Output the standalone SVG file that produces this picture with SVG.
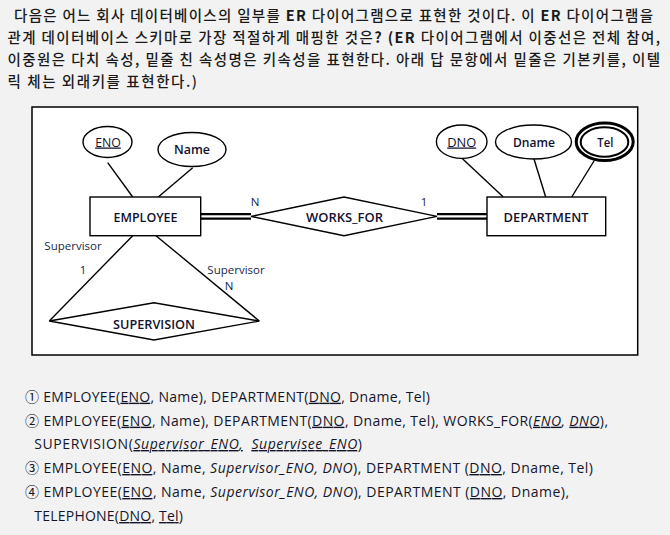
<svg xmlns="http://www.w3.org/2000/svg" width="670" height="535" viewBox="0 0 670 535">
<style>
.q{font-family:"Noto Sans CJK KR","Noto Sans",sans-serif;font-size:14.5px;font-weight:500;fill:#1a1a1a}
.b{font-weight:bold}
.a{font-family:"Open Sans","Noto Sans","Noto Sans CJK KR",sans-serif;font-size:14px;fill:#15152a}
.u{text-decoration:underline}
.i{font-style:italic}
.shape{fill:#fff;stroke:#000;stroke-width:1.4}
.ln{stroke:#000;stroke-width:1.4;fill:none}
.dbl{stroke:#000;stroke-width:2.3;fill:none}
.lbl{font-family:"Open Sans","Noto Sans",sans-serif;font-size:12.5px;font-weight:600;fill:#111130;text-anchor:middle}
.lbn{font-weight:normal}
.sm{font-family:"Open Sans","Noto Sans",sans-serif;font-size:11.5px;fill:#1a1f4a;text-anchor:middle}
</style>
<rect width="670" height="535" fill="#f2f2f2"/>

<g id="question">
<text class="q" x="14" y="20.5" textLength="639" lengthAdjust="spacing">다음은 어느 회사 데이터베이스의 일부를 <tspan class="b">ER</tspan> 다이어그램으로 표현한 것이다. 이 <tspan class="b">ER</tspan> 다이어그램을</text>
<text class="q" x="7.5" y="42.5" textLength="652.5" lengthAdjust="spacing">관계 데이터베이스 스키마로 가장 적절하게 매핑한 것은<tspan class="b">? (ER</tspan> 다이어그램에서 이중선은 전체 참여,</text>
<text class="q" x="7.5" y="64.5" textLength="652.5" lengthAdjust="spacing">이중원은 다치 속성, 밑줄 친 속성명은 키속성을 표현한다. 아래 답 문항에서 밑줄은 기본키를, 이텔</text>
<text class="q" x="7.5" y="86.5" textLength="189.5" lengthAdjust="spacing">릭 체는 외래키를 표현한다.)</text>
</g>

<rect id="frame" x="32" y="107" width="605.7" height="248" fill="#fff" stroke="#000" stroke-width="1.5"/>

<g id="connectors">
<line class="ln" x1="107.7" y1="162.7" x2="132.7" y2="197"/>
<line class="ln" x1="192.7" y1="167.7" x2="158.3" y2="197"/>
<line class="ln" x1="461.7" y1="158" x2="503.3" y2="197"/>
<line class="ln" x1="534" y1="159" x2="545.7" y2="197"/>
<line class="ln" x1="594.3" y1="160.5" x2="571.7" y2="197"/>
<line class="dbl" x1="200.7" y1="214.2" x2="251" y2="214.2"/>
<line class="dbl" x1="200.7" y1="218.7" x2="251" y2="218.7"/>
<line class="dbl" x1="437" y1="214.2" x2="487" y2="214.2"/>
<line class="dbl" x1="437" y1="218.7" x2="487" y2="218.7"/>
<line class="ln" x1="132.7" y1="235.7" x2="49.3" y2="321"/>
<line class="ln" x1="156" y1="235.7" x2="259.3" y2="321"/>
<text class="sm" x="73" y="249.5">Supervisor</text>
<text class="sm" x="83" y="273.5">1</text>
<text class="sm" x="236" y="273.5">Supervisor</text>
<text class="sm" x="229" y="290">N</text>
<text class="sm" x="255" y="206">N</text>
<text class="sm" x="424" y="205.5">1</text>
</g>

<g id="ENO">
<ellipse class="shape" cx="107.5" cy="142" rx="24.5" ry="15.5"/>
<text class="lbl lbn u" x="108" y="146.5" textLength="25.7" lengthAdjust="spacingAndGlyphs">ENO</text>
</g>
<g id="Name">
<ellipse class="shape" cx="192" cy="149.5" rx="34" ry="17"/>
<text class="lbl" x="192" y="153.5" textLength="36" lengthAdjust="spacingAndGlyphs">Name</text>
</g>
<g id="EMPLOYEE">
<rect class="shape" x="90" y="197" width="110.7" height="38.7"/>
<text class="lbl" x="145.5" y="221.5" textLength="64" lengthAdjust="spacingAndGlyphs">EMPLOYEE</text>
</g>
<g id="WORKS_FOR">
<polygon class="shape" points="251,216.4 344,197 437,216.4 344,235.7"/>
<text class="lbl" x="344.5" y="221.5" textLength="77" lengthAdjust="spacingAndGlyphs">WORKS_FOR</text>
</g>
<g id="DEPARTMENT">
<rect class="shape" x="487" y="197" width="118.7" height="38.7"/>
<text class="lbl" x="546" y="221.5" textLength="85" lengthAdjust="spacingAndGlyphs">DEPARTMENT</text>
</g>
<g id="DNO">
<ellipse class="shape" cx="461.7" cy="141.7" rx="25.3" ry="16.7"/>
<text class="lbl lbn u" x="461.7" y="146.5" textLength="29" lengthAdjust="spacingAndGlyphs">DNO</text>
</g>
<g id="Dname">
<ellipse class="shape" cx="533.5" cy="142" rx="38" ry="17"/>
<text class="lbl" x="534" y="146.5" textLength="42" lengthAdjust="spacingAndGlyphs">Dname</text>
</g>
<g id="Tel">
<ellipse cx="604.7" cy="141.7" rx="28.5" ry="18.8" fill="#fff" stroke="#000" stroke-width="3"/>
<ellipse cx="604.5" cy="142" rx="23.8" ry="14.7" fill="#fff" stroke="#000" stroke-width="2"/>
<text class="lbl" x="605.3" y="146.5" textLength="16" lengthAdjust="spacingAndGlyphs">Tel</text>
</g>
<g id="SUPERVISION">
<polygon class="shape" points="49.3,321 154,302.7 259.3,321 154,340"/>
<text class="lbl" x="154" y="328.5" textLength="82" lengthAdjust="spacingAndGlyphs">SUPERVISION</text>
</g>

<g id="answers">
<text class="a" x="25" y="401.7" textLength="405" lengthAdjust="spacing">① EMPLOYEE(<tspan class="u">ENO</tspan>, Name), DEPARTMENT(<tspan class="u">DNO</tspan>, Dname, Tel)</text>
<text class="a" x="25" y="425.7" textLength="583" lengthAdjust="spacing">② EMPLOYEE(<tspan class="u">ENO</tspan>, Name), DEPARTMENT(<tspan class="u">DNO</tspan>, Dname, Tel), WORKS_FOR(<tspan class="i u">ENO</tspan><tspan class="i">, </tspan><tspan class="i u">DNO</tspan>),</text>
<text class="a" x="34.3" y="449" textLength="327.7" lengthAdjust="spacing">SUPERVISION(<tspan class="i u">Supervisor_ENO,</tspan><tspan dx="8" class="i u">Supervisee_ENO</tspan>)</text>
<text class="a" x="25" y="473" textLength="568" lengthAdjust="spacing">③ EMPLOYEE(<tspan class="u">ENO</tspan>, Name, <tspan class="i">Supervisor_ENO, DNO</tspan>), DEPARTMENT (<tspan class="u">DNO</tspan>, Dname, Tel)</text>
<text class="a" x="25" y="497" textLength="544" lengthAdjust="spacing">④ EMPLOYEE(<tspan class="u">ENO</tspan>, Name, <tspan class="i">Supervisor_ENO, DNO</tspan>), DEPARTMENT (<tspan class="u">DNO</tspan>, Dname),</text>
<text class="a" x="34.3" y="521" textLength="148.7" lengthAdjust="spacing">TELEPHONE(<tspan class="u">DNO</tspan>, <tspan class="u">Tel</tspan>)</text>
</g>
</svg>
